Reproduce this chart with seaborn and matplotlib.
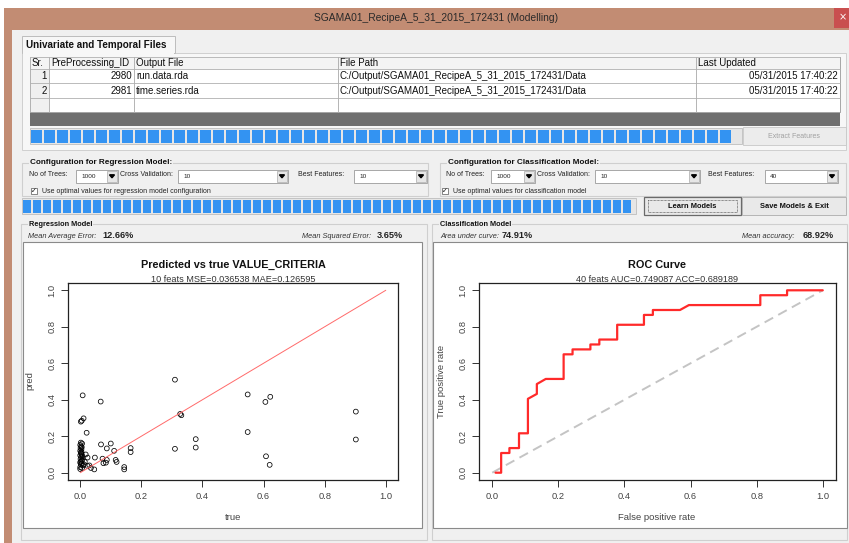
import numpy as np
import pandas as pd
import matplotlib
matplotlib.use("Agg")
import matplotlib.pyplot as plt
from matplotlib.patches import Rectangle, Polygon
import seaborn as sns

# ---- values
# regression: true vs predicted VALUE_CRITERIA
true_vals = [0.000, 0.002, 0.000, 0.004, 0.001, 0.003, 0.000, 0.005, 0.002, 0.000,
             0.004, 0.001, 0.003, 0.000, 0.006, 0.002, 0.008, 0.006, 0.000, 0.005,
             0.007, 0.004, 0.001, 0.003, 0.005, 0.007,
             0.002, 0.005, 0.011, 0.008, 0.021,
             0.018, 0.024, 0.024, 0.035, 0.046, 0.048, 0.068, 0.067, 0.073, 0.076,
             0.084, 0.087, 0.087, 0.100, 0.111, 0.116, 0.119, 0.012, 0.015, 0.030,
             0.144, 0.144, 0.165, 0.165,
             0.310, 0.310, 0.327, 0.331, 0.378, 0.378,
             0.548, 0.548, 0.606, 0.622, 0.608, 0.620, 0.902, 0.902]
pred_vals = [0.030, 0.045, 0.055, 0.065, 0.075, 0.085, 0.095, 0.100, 0.110, 0.120,
             0.128, 0.135, 0.145, 0.152, 0.160, 0.165, 0.040, 0.025, 0.020, 0.050,
             0.090, 0.115, 0.060, 0.105, 0.140, 0.070,
             0.280, 0.285, 0.298, 0.424, 0.219,
             0.100, 0.083, 0.037, 0.026, 0.018, 0.083, 0.155, 0.390, 0.077, 0.052,
             0.055, 0.070, 0.133, 0.160, 0.120, 0.070, 0.059, 0.045, 0.060, 0.040,
             0.031, 0.018, 0.135, 0.113,
             0.510, 0.131, 0.322, 0.315, 0.184, 0.138,
             0.429, 0.223, 0.388, 0.416, 0.090, 0.043, 0.335, 0.182]

# classification: ROC curve
fpr = [0.010, 0.027, 0.027, 0.052, 0.052, 0.081, 0.081, 0.108, 0.108, 0.135, 0.135,
       0.162, 0.216, 0.216, 0.243, 0.243, 0.297, 0.297, 0.324, 0.324, 0.378, 0.378,
       0.459, 0.459, 0.486, 0.486, 0.568, 0.595, 0.811, 0.811, 0.892, 0.892, 1.000]
tpr = [0.000, 0.000, 0.108, 0.108, 0.135, 0.135, 0.216, 0.216, 0.405, 0.432, 0.486,
       0.514, 0.514, 0.649, 0.649, 0.676, 0.676, 0.703, 0.703, 0.730, 0.730, 0.811,
       0.811, 0.865, 0.865, 0.892, 0.892, 0.919, 0.919, 0.973, 0.973, 1.000, 1.000]

ticks = [0.0, 0.2, 0.4, 0.6, 0.8, 1.0]

table_cols = ["Sr.", "PreProcessing_ID", "Output File", "File Path", "Last Updated"]
table_rows = [["1", "2980", "run.data.rda", "C:/Output/SGAMA01_RecipeA_5_31_2015_172431/Data", "05/31/2015 17:40:22"],
              ["2", "2981", "time.series.rda", "C:/Output/SGAMA01_RecipeA_5_31_2015_172431/Data", "05/31/2015 17:40:22"]]

sns.set_style("ticks")
plt.rcParams['font.family'] = ['Liberation Sans', 'DejaVu Sans']

W, H = 849, 543
fig = plt.figure(figsize=(W / 100, H / 100), dpi=100)
bg = fig.add_axes([0, 0, 1, 1])
bg.set_xlim(0, W)
bg.set_ylim(H, 0)
bg.axis('off')

LBL = 5.0   # small control labels


def box(x0, y0, x1, y1, fc, ec='none', lw=0.8, **kw):
    bg.add_patch(Rectangle((x0, y0), x1 - x0, y1 - y0, facecolor=fc, edgecolor=ec, linewidth=lw, **kw))


def txt(x, y, s, size, ha='left', **kw):
    bg.text(x, y, s, fontsize=size, ha=ha, va='center', **kw)


def group(x0, y0, x1, y1, title, size=5.3):
    box(x0, y0, x1, y1, 'none', '#cfcfcf', 0.8)
    txt(x0 + 8, y0, title, size, weight='bold', color='#111',
        bbox=dict(facecolor='#f0f0f0', edgecolor='none', pad=0.6))


def combo(x0, x1, yc, val):
    box(x0, yc - 6.5, x1, yc + 6.5, 'white', '#9a9a9a', 0.6)
    box(x1 - 11, yc - 5.5, x1 - 1, yc + 5.5, '#e6e6e6', '#aaaaaa', 0.5)
    bg.add_patch(Polygon([[x1 - 8.5, yc - 1.2], [x1 - 3.5, yc - 1.2], [x1 - 6, yc + 1.8]], color='black'))
    txt(x0 + 5, yc + 0.5, val, 4.6, color='#222')


def progress(x0, x1, y0, y1, step):
    box(x0, y0, x1, y1, '#e6e6e6', '#bdbdbd', 0.6)
    x = x0 + 1.5
    while x + step - 2 <= x1 - 1:
        box(x, y0 + 1.5, x + step - 2, y1 - 1.5, '#3393f2')
        x += step


def checkbox(x, yc, label):
    box(x, yc - 3, x + 6, yc + 3, 'white', '#555', 0.5)
    txt(x + 0.3, yc - 0.2, "\u2713", 5, family='DejaVu Sans', color='#111')
    txt(x + 11, yc + 0.3, label, LBL, color='#222')


# ---- window chrome
box(4, 8, W, H, '#c28c73')
box(12, 30, W, H, '#f0f0f0')
box(834, 8, W, 28, '#c94f4f')
txt(843, 17, "\u00d7", 7, ha='center', color='white', family='DejaVu Sans')
txt(436, 18, "SGAMA01_RecipeA_5_31_2015_172431 (Modelling)", 7.4, ha='center', color='#2a2a2a')

# tab with file table
box(22, 53, 846, 150, '#f7f7f7', '#cfcfcf', 0.7)
box(22, 36, 175, 53, '#f7f7f7', '#bdbdbd', 0.7)
box(22.6, 52, 174.4, 54.5, '#f7f7f7')
txt(26, 45, "Univariate and Temporal Files", 7.1, weight='bold', color='#111')

col_edges = [30, 49, 134, 338, 696, 840]
row_edges = [57, 69, 83, 98, 112]
box(30, 57, 840, 112, 'white', '#a0a0a0', 0.6)
box(30, 57, 49, 112, '#f0f0f0')
box(30, 57, 840, 69, '#f4f4f4')
for xe in col_edges:
    bg.plot([xe, xe], [57, 112], color='#a8a8a8', lw=0.6)
for ye in row_edges:
    bg.plot([30, 840], [ye, ye], color='#b0b0b0', lw=0.6)
for i, name in enumerate(table_cols):
    txt(col_edges[i] + 2, 63, name, 7.0, color='#111')
for r, row in enumerate(table_rows):
    yc = (row_edges[r + 1] + row_edges[r + 2]) / 2
    txt(col_edges[1] - 2, yc, row[0], 7.0, ha='right', color='#111')
    txt(col_edges[2] - 2, yc, row[1], 7.0, ha='right', color='#111')
    txt(col_edges[2] + 2, yc, row[2], 7.0, color='#111')
    txt(col_edges[3] + 2, yc, row[3], 7.0, color='#111')
    txt(col_edges[5] - 2, yc, row[4], 7.0, ha='right', color='#111')
box(30, 112, 840, 126, '#6f6f6f')

progress(30, 742, 128, 144, 13)
box(743, 127, 846, 145, '#ececec', '#c8c8c8', 0.6)
txt(794, 136.5, "Extract Features", 5.0, ha='center', color='#a0a0a0')

# model configuration groups
group(22, 163, 428, 196, "Configuration for Regression Model:", 5.9)
txt(29, 175, "No of Trees:", LBL, color='#222')
combo(76, 118, 176, "1000")
txt(120, 174, "Cross Validation:", LBL, color='#222')
combo(178, 288, 176, "10")
txt(298, 174, "Best Features:", LBL, color='#222')
combo(354, 427, 176, "10")
checkbox(31, 191, "Use optimal values for regression model configuration")

group(440, 163, 846, 196, "Configuration for Classification Model:", 5.9)
txt(446, 174, "No of Trees:", LBL, color='#222')
combo(491, 535, 176, "1000")
txt(537, 174, "Cross Validation:", LBL, color='#222')
combo(595, 700, 176, "10")
txt(708, 174, "Best Features:", LBL, color='#222')
combo(765, 838, 176, "40")
checkbox(442, 191, "Use optimal values for classification model")

progress(22, 636, 198, 214, 10)
box(644, 197, 741, 215, '#e9e9e9', '#6a6a6a', 0.9)
box(648, 200, 737, 212, 'none', '#333', 0.5, linestyle=(0, (1, 1)))
txt(692, 206.5, "Learn Models", 5.4, ha='center', weight='bold', color='#111')
box(742, 197, 846, 215, '#e9e9e9', '#b5b5b5', 0.7)
txt(794, 206.5, "Save Models & Exit", 5.4, ha='center', weight='bold', color='#111')

# result panels
group(21, 224, 427, 540, "Regression Model")
txt(28, 236, "Mean Average Error:", 5.3, style='italic', color='#333')
txt(102, 236, "12.66%", 6.6, weight='bold', color='#222')
txt(302, 236, "Mean Squared Error:", 5.3, style='italic', color='#333')
txt(377, 236, "3.65%", 6.6, weight='bold', color='#222')
box(23, 242, 422, 528, 'white', '#8a8a8a', 0.8)

group(432, 224, 847, 540, "Classification Model")
txt(440, 236, "Area under curve:", 5.3, style='italic', color='#333')
txt(502, 236, "74.91%", 6.6, weight='bold', color='#222')
txt(742, 236, "Mean accuracy:", 5.3, style='italic', color='#333')
txt(803, 236, "68.92%", 6.6, weight='bold', color='#222')
box(433, 242, 847, 528, 'white', '#8a8a8a', 0.8)


def fig_rect(x0, y0, x1, y1):
    return [x0 / W, 1 - y1 / H, (x1 - x0) / W, (y1 - y0) / H]


def r_style(ax):
    ax.set_xlim(-0.04, 1.04)
    ax.set_ylim(-0.04, 1.04)
    ax.set_xticks(ticks)
    ax.set_yticks(ticks)
    ax.set_xticklabels([f"{t:.1f}" for t in ticks])
    ax.set_yticklabels([f"{t:.1f}" for t in ticks], rotation=90, va='center')
    ax.tick_params(length=5, width=0.7, color='#333', labelsize=6.7, labelcolor='#444',
                   pad=3.3, direction='out', bottom=True, left=True)
    for sp in ax.spines.values():
        sp.set_visible(True)
        sp.set_color('#222')
        sp.set_linewidth(0.9)
    ax.set_xlabel('')
    ax.set_ylabel('')
    ax.set_facecolor('white')


# ---- regression scatter
ax1 = fig.add_axes(fig_rect(68, 283, 398, 480))
reg = pd.DataFrame({"true": true_vals, "pred": pred_vals})
sns.lineplot(x=[0, 1], y=[0, 1], ax=ax1, color='#ff6a6a', lw=0.7)
sns.scatterplot(data=reg, x="true", y="pred", ax=ax1, marker='o', s=12,
                facecolor='none', edgecolor='black', linewidth=0.55)
r_style(ax1)
txt(233, 265, "Predicted vs true VALUE_CRITERIA", 7.8, ha='center', weight='bold', color='#111')
txt(233, 279, "10 feats MSE=0.036538 MAE=0.126595", 6.6, ha='center', color='#333')
txt(233, 517, "true", 6.8, ha='center', color='#444')
txt(30, 381, "pred", 6.8, ha='center', rotation=90, color='#444')

# ---- ROC curve
ax2 = fig.add_axes(fig_rect(479, 283, 836, 480))
roc = pd.DataFrame({"fpr": fpr, "tpr": tpr})
sns.lineplot(x=[0, 1], y=[0, 1], ax=ax2, color='#c4c4c4', lw=1.4, linestyle=(0, (5, 3)))
sns.lineplot(data=roc, x="fpr", y="tpr", ax=ax2, sort=False, estimator=None,
             color='#ff2a2a', lw=1.6)
r_style(ax2)
txt(657, 265, "ROC Curve", 7.8, ha='center', weight='bold', color='#111')
txt(657, 279, "40 feats AUC=0.749087 ACC=0.689189", 6.6, ha='center', color='#333')
txt(657, 517, "False positive rate", 6.8, ha='center', color='#444')
txt(442, 381, "True positive rate", 6.8, ha='center', rotation=90, color='#444')

fig.savefig("out.png", dpi=100)
